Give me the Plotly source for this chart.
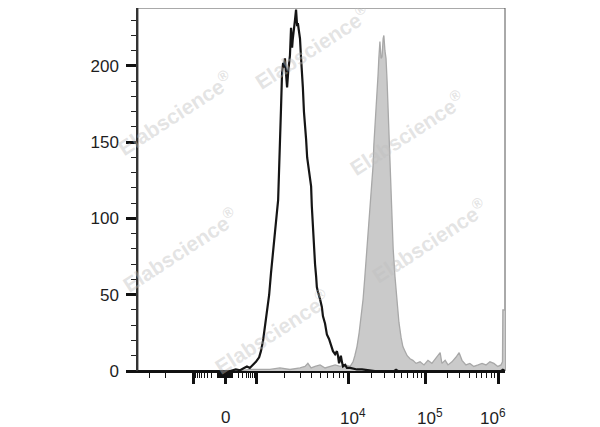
import numpy as np
import plotly.graph_objects as go

# ---------------- data (display channels 0..1024, biexponential axis) ----------------
black_ch = [0, 257, 273, 285, 296, 304, 312, 321, 329, 338, 343, 349, 354, 360, 366, 371,
            377, 382, 388, 391, 393, 396, 399, 402, 405, 407, 410, 413, 416, 419, 421, 424,
            427, 430, 432, 435, 438, 441, 444, 446, 449, 452, 455, 458, 460, 463, 466, 469,
            472, 474, 477, 480, 483, 485, 488, 491, 494, 497, 499, 502, 505, 508, 513, 516,
            522, 527, 533, 539, 544, 550, 555, 558, 561, 564, 566, 569, 572, 578, 583, 592,
            600, 611, 625, 642, 661, 715, 720, 725, 1013, 1018, 1024]
black_count = [0, 0, 1, 0.5, 2, 3, 2, 4, 6, 9, 13, 20, 28, 37, 50, 64,
               80, 94, 105, 112, 124, 145, 172, 196, 202, 199, 205, 195, 186, 196, 203, 207,
               225, 212, 218, 227, 230, 237, 226, 228, 224, 218, 205, 196, 186, 170, 162, 152,
               140, 136, 130, 128, 121, 108, 92, 80, 70, 62, 55, 52, 50, 47, 42, 36,
               31, 24, 21, 17, 13, 11, 13, 10, 5, 8, 10, 6, 3, 4, 2, 2,
               1.5, 1, 1, 0.5, 0, 0, 0.8, 0, 0, 0.8, 0]

gray_ch = [0, 285, 312, 338, 368, 396, 424, 452, 466, 474, 483, 494, 508, 522, 536, 550,
           564, 578, 592, 600, 605, 611, 617, 622, 628, 633, 639, 645, 650, 653, 656, 658,
           661, 664, 667, 670, 672, 675, 678, 681, 684, 686, 689, 692, 695, 698, 700, 703,
           706, 709, 712, 717, 723, 728, 734, 739, 745, 751, 759, 767, 776, 787, 798, 809,
           820, 831, 843, 848, 857, 865, 876, 887, 896, 904, 915, 926, 937, 949, 960, 971,
           982, 993, 1004, 1013, 1017, 1018, 1024]
gray_count = [0, 0, 1, 1, 1, 2, 1, 2, 3, 5, 2, 3, 4, 2, 3, 4,
              3, 4, 3, 6, 10, 16, 25, 35, 47, 62, 80, 100, 113, 122, 135, 148,
              158, 168, 180, 195, 205, 216, 205, 206, 218, 220, 210, 205, 190, 170, 152, 130,
              112, 95, 80, 62, 45, 32, 22, 16, 13, 10, 8, 7, 5, 6, 4, 7,
              5, 8, 12, 5, 7, 4, 6, 9, 12, 7, 4, 5, 3, 4, 5, 4,
              6, 5, 3, 4, 6, 40, 40]

x_major_vals = [-1000, 0, 1000, 1e4, 1e5, 1e6]
x_label_vals = [0, 1e4, 1e5, 1e6]
x_label_text = ["0", "10<sup>4</sup>", "10<sup>5</sup>", "10<sup>6</sup>"]
x_minor_vals = ([-3000, -2000] + [-k * 100 for k in range(9, 0, -1)] + [-k * 10 for k in range(9, 0, -1)]
                + [k * 10 for k in range(1, 10)] + [k * 100 for k in range(1, 10)]
                + [k * 1000 for k in range(2, 10)] + [k * 10000 for k in range(2, 10)]
                + [k * 100000 for k in range(2, 10)])

y_major_vals = [0, 50, 100, 150, 200]
y_major_text = ["0", "50", "100", "150", "200"]

watermark_text = "Elabscience<sup>®</sup>"
watermark_xy = [(0.474, 0.893), (0.101, 0.710), (0.733, 0.655),
                (0.114, 0.332), (0.792, 0.359), (0.365, 0.107)]

# ---------------- biexponential display scale ----------------
CH_MAX = 1024
ZERO_CH = 243
DECADES = [3, 4, 5, 6]
DECADE_CH = [89, 343, 558, 762]
CORE_COF = 150.0


def to_channel(v):
    a = abs(v)
    if a <= 1000:
        off = DECADE_CH[0] * np.arcsinh(a / CORE_COF) / np.arcsinh(1000 / CORE_COF)
    else:
        off = np.interp(np.log10(a), DECADES, DECADE_CH)
    return float(ZERO_CH + np.sign(v) * off)


major_ch = [to_channel(v) for v in x_major_vals]
minor_ch = [c for c in (to_channel(v) for v in x_minor_vals) if 0 <= c <= CH_MAX]

FONT = "Liberation Sans, Arial, Helvetica, sans-serif"
TXT = "#1e1e1e"

fig = go.Figure()
fig.add_trace(go.Scatter(x=gray_ch, y=gray_count, mode="lines", fill="tozeroy",
                         fillcolor="#cacaca", line=dict(color="#a8a8a8", width=1.3),
                         hoverinfo="skip", showlegend=False))
fig.add_trace(go.Scatter(x=black_ch, y=black_count, mode="lines",
                         line=dict(color="#151515", width=2.2),
                         hoverinfo="skip", showlegend=False))

fig.update_layout(
    width=600, height=427,
    margin=dict(l=130, r=103, t=0, b=64),
    paper_bgcolor="white", plot_bgcolor="white",
    font=dict(family=FONT, size=17, color=TXT),
    xaxis=dict(range=[0, CH_MAX], showgrid=False, zeroline=False,
               showline=True, linecolor="#111", linewidth=2,
               tickmode="array", tickvals=major_ch, ticks="outside",
               ticklen=11, tickwidth=3, tickcolor="#111", showticklabels=False,
               minor=dict(tickmode="array", tickvals=minor_ch, ticks="outside",
                          ticklen=5, tickwidth=1.3, tickcolor="#111")),
    yaxis=dict(range=[0, 238], showgrid=False, zeroline=False,
               showline=True, linecolor="#333", linewidth=1.5,
               tickmode="array", tickvals=y_major_vals, ticktext=y_major_text,
               ticks="outside", ticklen=10, tickwidth=2.5, tickcolor="#111",
               ticklabelstandoff=4,
               tickfont=dict(family=FONT, size=17, color=TXT),
               minor=dict(dtick=10, ticks="outside", ticklen=5, tickwidth=1.2,
                          tickcolor="#222")),
)

# frame (top / right border)
fig.add_shape(type="rect", xref="paper", yref="paper", x0=0, y0=0, x1=1, y1=1,
              line=dict(color="#555", width=1), layer="below")

# x tick labels
for i, (v, t) in enumerate(zip(x_label_vals, x_label_text)):
    last = i == len(x_label_vals) - 1
    fig.add_annotation(x=CH_MAX if last else to_channel(v), xref="x", y=0, yref="paper",
                       text=t, showarrow=False,
                       xanchor="right" if last else "center",
                       xshift=3 if last else (5 if "sup" in t else 0),
                       yanchor="middle", yshift=-46,
                       font=dict(family=FONT, size=17, color=TXT))

# watermarks
for (wx, wy) in watermark_xy:
    fig.add_annotation(x=wx, y=wy, xref="paper", yref="paper", text=watermark_text,
                       showarrow=False, textangle=-33, xanchor="center", yanchor="middle",
                       font=dict(family="Liberation Sans, Arial, sans-serif", size=21,
                                 color="rgba(190,190,190,0.42)", weight="bold"))

fig.write_html("out.html")
